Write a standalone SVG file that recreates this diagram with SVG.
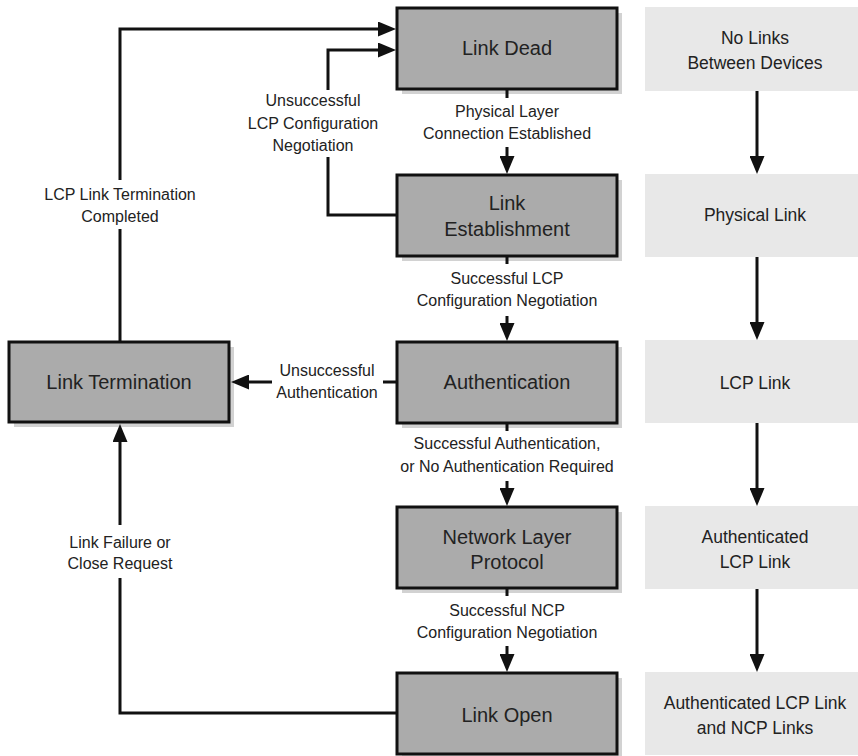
<svg xmlns="http://www.w3.org/2000/svg" width="858" height="756" viewBox="0 0 858 756">
<defs>
<style>
.box{fill:#ababab;stroke:#111;stroke-width:3}
.shadow{fill:#d2d2d2}
.state{fill:#e8e8e8}
.line{fill:none;stroke:#111;stroke-width:3}
.arr{fill:none;stroke:#111;stroke-width:3;marker-end:url(#ah)}
text{font-family:"Liberation Sans",Arial,sans-serif;fill:#222;text-anchor:middle}
.bl{font-size:20px}
.el{font-size:16px}
.sl{font-size:17.5px}
</style>
<marker id="ah" markerUnits="userSpaceOnUse" markerWidth="18" markerHeight="15" refX="6" refY="7.5" orient="auto">
<path d="M0,0 L18,7.5 L0,15 z" fill="#111"/>
</marker>
</defs>
<rect width="858" height="756" fill="#fff"/>

<g id="states">
<g id="s1"><rect class="state" x="645" y="7" width="213" height="84"/><text class="sl" x="755" y="44">No Links</text><text class="sl" x="755" y="69">Between Devices</text></g>
<g id="s2"><rect class="state" x="645" y="174" width="213" height="83"/><text class="sl" x="755" y="221">Physical Link</text></g>
<g id="s3"><rect class="state" x="645" y="340" width="213" height="83"/><text class="sl" x="755" y="389">LCP Link</text></g>
<g id="s4"><rect class="state" x="645" y="506" width="213" height="83"/><text class="sl" x="755" y="543">Authenticated</text><text class="sl" x="755" y="568">LCP Link</text></g>
<g id="s5"><rect class="state" x="645" y="672" width="213" height="83"/><text class="sl" x="755" y="709">Authenticated LCP Link</text><text class="sl" x="755" y="734">and NCP Links</text></g>
</g>

<g id="linkdead"><rect class="shadow" x="402" y="13" width="220" height="81"/><rect class="box" x="397" y="8" width="220" height="81"/><text class="bl" x="507" y="55">Link Dead</text></g>
<g id="linkestablishment"><rect class="shadow" x="402" y="180" width="220" height="81"/><rect class="box" x="397" y="175" width="220" height="81"/><text class="bl" x="507" y="210">Link</text><text class="bl" x="507" y="236">Establishment</text></g>
<g id="authentication"><rect class="shadow" x="402" y="347" width="220" height="81"/><rect class="box" x="397" y="342" width="220" height="81"/><text class="bl" x="507" y="389">Authentication</text></g>
<g id="networklayer"><rect class="shadow" x="402" y="512" width="220" height="81"/><rect class="box" x="397" y="507" width="220" height="81"/><text class="bl" x="507" y="544">Network Layer</text><text class="bl" x="507" y="569">Protocol</text></g>
<g id="linkopen"><rect class="shadow" x="402" y="678" width="220" height="81"/><rect class="box" x="397" y="673" width="220" height="81"/><text class="bl" x="507" y="722">Link Open</text></g>
<g id="linktermination"><rect class="shadow" x="14" y="347" width="220" height="80"/><rect class="box" x="9" y="342" width="220" height="80"/><text class="bl" x="119" y="389">Link Termination</text></g>

<g id="connectors">
<path class="line" d="M507,89 V98"/>
<path class="arr" d="M507,147 V162"/>
<path class="line" d="M507,256 V264"/>
<path class="arr" d="M507,316 V329"/>
<path class="line" d="M507,423 V431"/>
<path class="arr" d="M507,481 V494"/>
<path class="line" d="M507,588 V596"/>
<path class="arr" d="M507,646 V660"/>

<path class="arr" d="M757,91 V162"/>
<path class="arr" d="M757,257 V328"/>
<path class="arr" d="M757,423 V494"/>
<path class="arr" d="M757,589 V660"/>

<path class="line" d="M120,342 V229"/>
<path class="arr" d="M120,180 V29 H384"/>
<path class="line" d="M397,215 H328 V157"/>
<path class="arr" d="M328,90 V50 H384"/>
<path class="line" d="M397,382 H383"/>
<path class="arr" d="M272,382 H243"/>
<path class="line" d="M397,713 H120 V578"/>
<path class="arr" d="M120,525 V436"/>

<text class="el" x="507" y="117">Physical Layer</text>
<text class="el" x="507" y="139">Connection Established</text>
<text class="el" x="507" y="284">Successful LCP</text>
<text class="el" x="507" y="306">Configuration Negotiation</text>
<text class="el" x="507" y="449">Successful Authentication,</text>
<text class="el" x="507" y="472">or No Authentication Required</text>
<text class="el" x="507" y="616">Successful NCP</text>
<text class="el" x="507" y="638">Configuration Negotiation</text>
<text class="el" x="313" y="106">Unsuccessful</text>
<text class="el" x="313" y="129">LCP Configuration</text>
<text class="el" x="313" y="151">Negotiation</text>
<text class="el" x="120" y="200">LCP Link Termination</text>
<text class="el" x="120" y="222">Completed</text>
<text class="el" x="327" y="376">Unsuccessful</text>
<text class="el" x="327" y="398">Authentication</text>
<text class="el" x="120" y="548">Link Failure or</text>
<text class="el" x="120" y="569">Close Request</text>
</g>
</svg>
